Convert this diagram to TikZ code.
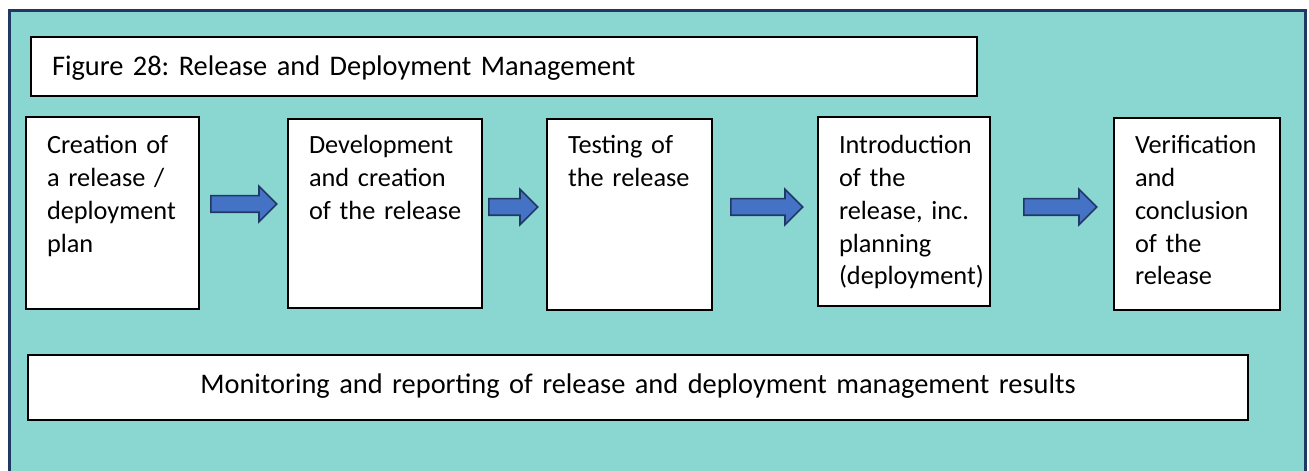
\documentclass[tikz,border=0pt]{standalone}
\usepackage{fontspec}
\setmainfont{Carlito}
\frenchspacing
\usetikzlibrary{shapes.arrows,calc}

\definecolor{panelfill}{RGB}{137,215,208}
\definecolor{panelline}{RGB}{31,56,100}
\definecolor{arrowfill}{RGB}{68,114,196}
\definecolor{arrowline}{RGB}{32,56,100}

\tikzset{
  textbox/.style={draw=black, line width=1.4bp, fill=white, anchor=north west,
    inner xsep=21bp, inner ysep=0bp, outer sep=0bp, align=left,
    font=\fontsize{28.5}{34}\selectfont},
  stepbox/.style={textbox, text height=37bp,
    font=\fontsize{26.4}{32.8}\selectfont},
  blockarrow/.style={single arrow, draw=arrowline, line width=1.6bp, fill=arrowfill,
    anchor=tail, inner xsep=0bp, inner ysep=7.5bp, minimum width=34bp,
    single arrow head extend=9.5bp}
}

\begin{document}
\begin{tikzpicture}[x=1bp,y=-1bp]
  \useasboundingbox (0,0) rectangle (1309,471);
  \clip (0,0) rectangle (1309,471);
  \fill[white] (0,0) rectangle (1309,471);
  % Panel, cut off at the bottom
  \draw[panelline, line width=3bp, fill=panelfill] (9.5,11) rectangle (1305.5,500);
%%
  % Node: title
  \node[textbox, text width=904bp, text height=39bp, text depth=20bp] (title) at (31,37)
    {Figure 28: Release and Deployment Management};
  % Node: plan
  \node[stepbox, text width=131bp, text depth=155bp] (plan) at (26,117)
    {\mbox{Creation of}\\\mbox{a release /}\\deployment\\plan};
  % Node: build
  \node[stepbox, text width=152bp, text height=35bp, text depth=154bp] (build) at (288,119)
    {Development\\\mbox{and creation}\\\mbox{of the release}};
  % Node: test
  \node[stepbox, text width=123bp, text height=35bp, text depth=156bp] (test) at (547,119)
    {\mbox{Testing of}\\\mbox{the release}};
  % Node: intro
  \node[stepbox, text width=130bp, text depth=152bp] (intro) at (818,117)
    {Introduction\\\mbox{of the}\\\mbox{release, inc.}\\planning\\(deployment)};
  % Node: verify
  \node[stepbox, text width=124bp, text height=36bp, text depth=156bp] (verify) at (1114,118)
    {Verification\\and\\conclusion\\\mbox{of the}\\release};
  % Node: monitor
  \node[textbox, align=center, text width=1178bp, text height=38bp, text depth=27bp] (monitor) at (28,355)
    {Monitoring and reporting of release and deployment management results};
%%
  % Edge: plan -> build
  \node[blockarrow, minimum height=66bp] (arr1) at ($(plan.east)+(11,-9)$) {};
  % Edge: build -> test
  \node[blockarrow, minimum height=49bp] (arr2) at ($(build.east)+(6,-6.5)$) {};
  % Edge: test -> intro
  \node[blockarrow, minimum height=72bp] (arr3) at ($(test.east)+(18,-7.5)$) {};
  % Edge: intro -> verify
  \node[blockarrow, minimum height=73bp] (arr4) at ($(intro.east)+(33,-4.5)$) {};
%
\end{tikzpicture}
\end{document}
